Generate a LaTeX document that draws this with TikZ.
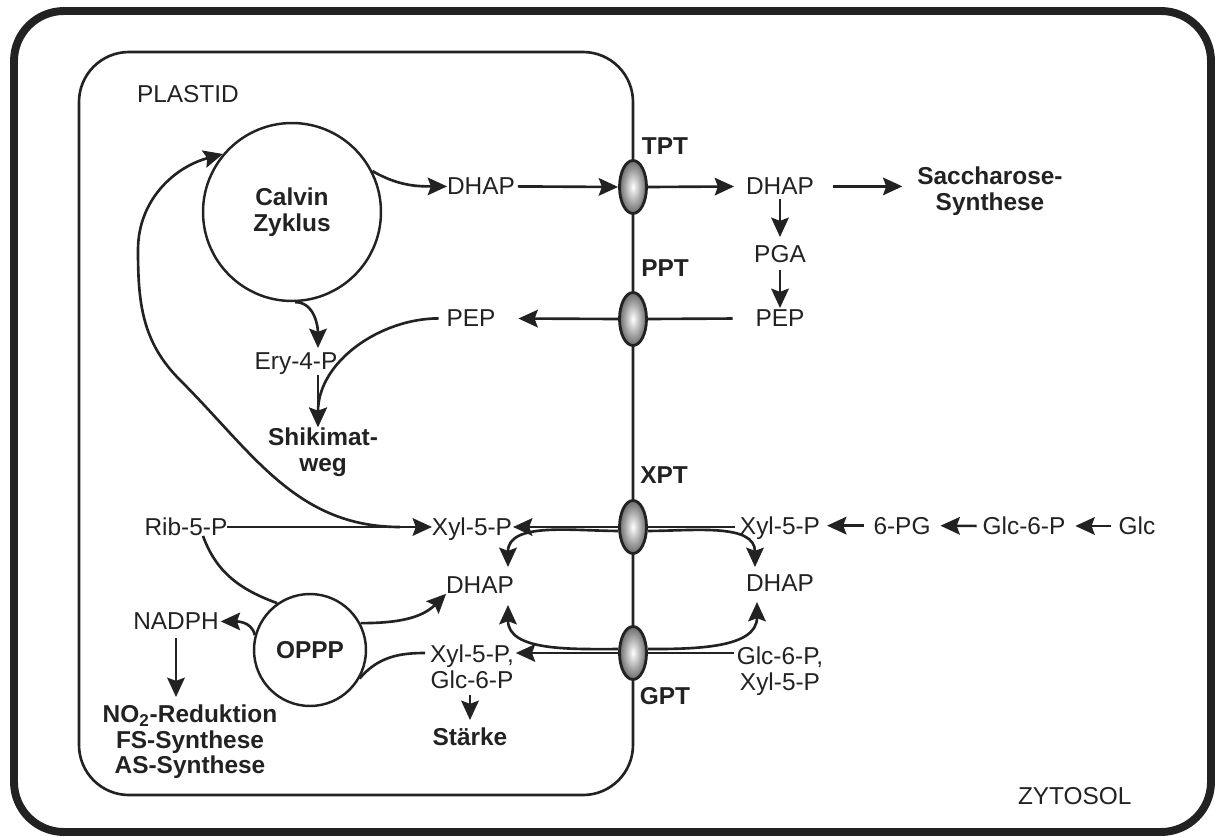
\documentclass[tikz,border=0pt]{standalone}
\usepackage{fontspec}
\setmainfont{Liberation Sans}
\usetikzlibrary{arrows.meta,shapes.geometric}
\definecolor{ink}{HTML}{222222}
\begin{document}
\begin{tikzpicture}[x=0.02cm,y=0.02cm,
  lbl/.style={font=\fontsize{13.9}{14.5}\selectfont, inner sep=0pt, outer sep=0pt, align=center, text=ink, anchor=north},
  blbl/.style={lbl, font=\fontsize{13.9}{14.5}\selectfont\bfseries},
  ln/.style={draw=ink, line width=1.5pt},
  arr/.style={ln, -{Stealth[length=11pt,width=10pt,inset=1.8pt]}},
  trans/.style={ellipse, draw=ink, line width=1.6pt, minimum width=0.54cm, minimum height=1.06cm, inner sep=0pt,
    shade, shading=radial, inner color=white, outer color=black!58},
  cyc/.style={circle, draw=ink, line width=1.4pt, inner sep=0pt, font=\fontsize{13.9}{14.5}\selectfont\bfseries, align=center, text=ink}
]
\useasboundingbox (0,0) rectangle (1215,-836);
% frames
\draw[draw=ink, line width=4.5pt, rounded corners=1cm] (14,-11) rectangle (1211,-832);
\draw[draw=ink, line width=1.5pt, rounded corners=1cm] (79,-52) rectangle (633,-795);

% cycles
\node[cyc, minimum size=3.56cm] (calvin) at (292,-212) {Calvin\\Zyklus};
\node[cyc, minimum size=2.24cm] (oppp) at (310,-650) {OPPP};

% labels
\node[lbl, anchor=north west] (plastid) at (137,-85) {PLASTID};
\node[lbl, anchor=north west] (zyt) at (1018,-787) {ZYTOSOL};
\node[lbl] (dhapP) at (481,-178) {DHAP};
\node[lbl] (dhapC) at (780,-178) {DHAP};
\node[blbl] (sacch) at (990,-167) {Saccharose-\\Synthese};
\node[lbl] (pga) at (780,-245) {PGA};
\node[lbl] (pepC) at (780,-310) {PEP};
\node[lbl] (pepP) at (471,-310) {PEP};
\node[lbl] (ery) at (296,-353) {Ery-4-P};
\node[blbl] (shik) at (323,-428) {Shikimat-\\weg};
\node[lbl] (ribP) at (186,-518) {Rib-5-P};
\node[lbl] (xylP) at (472,-518) {Xyl-5-P};
\node[lbl] (xylC) at (780,-517) {Xyl-5-P};
\node[lbl] (pg6) at (902,-517) {6-PG};
\node[lbl] (glc6) at (1024,-517) {Glc-6-P};
\node[lbl] (glc) at (1137,-517) {Glc};
\node[lbl] (dhapP2) at (480,-577) {DHAP};
\node[lbl] (dhapC2) at (780,-575) {DHAP};
\node[lbl] (nadph) at (176,-613) {NADPH};
\node[lbl] (xglcP) at (472,-645) {Xyl-5-P,\\Glc-6-P};
\node[lbl] (glcxC) at (780,-647) {Glc-6-P,\\Xyl-5-P};
\node[blbl] (no2) at (190,-705) {NO\textsubscript{2}-Reduktion\\FS-Synthese\\AS-Synthese};
\node[blbl] (staerke) at (470,-728) {Stärke};

% transporters
\node[trans] (tpt) at (633,-187) {};
\node[trans] (ppt) at (633,-319) {};
\node[trans] (xpt) at (633,-527) {};
\node[trans] (gpt) at (633,-653) {};
\node[blbl] (tptl) at (665,-138) {TPT};
\node[blbl] (pptl) at (665,-260) {PPT};
\node[blbl] (xptl) at (664,-467) {XPT};
\node[blbl] (gptl) at (665,-687) {GPT};

% helper coordinates
\coordinate (eryin) at (318,-348);
\coordinate (shikin) at (318,-427);
\coordinate (bigstart) at (400,-527);
\coordinate (dPtop) at (508,-567);
\coordinate (dPbot) at (508,-605);
\coordinate (dCtop) at (755,-567);
\coordinate (dCbot) at (757,-602);

% connectors
\draw[arr] (calvin.27) to[out=-30,in=180] (dhapP.west);
\draw[arr, shorten <=0.06cm] (dhapP.east) -- (tpt.west);
\draw[arr, shorten >=0.24cm] (tpt.east) -- (dhapC.west);
\draw[arr, shorten <=0.38cm, shorten >=0.3cm] (dhapC.east) -- (dhapC.east -| sacch.west);
\draw[arr, shorten <=0.08cm, shorten >=0.16cm] (dhapC.south) -- (pga.north);
\draw[arr, shorten <=0.15cm, shorten >=0.04cm] (pga.south) -- (pepC.north);
\draw[ln, shorten <=0.46cm] (pepC.west) -- (ppt.east);
\draw[arr, shorten >=0.46cm] (ppt.west) -- (pepP.east);
\draw[arr, shorten <=0.16cm] (pepP.west) to[out=180,in=90] (shikin);
\draw[arr] (calvin.-88) to[out=0,in=90] (eryin);
\draw[arr] (eryin |- ery.south) -- (shikin);
\draw[arr] (ribP.east) -- (ribP.east -| xylP.west);
\draw[arr] (bigstart) to[out=180,in=-45] (180,-380) to[out=135,in=-90] (138,-250) to[out=90,in=-165] (calvin.140);
\draw[arr, shorten >=0.02cm] (xpt.west) -- (xpt.west -| xylP.east);
\draw[arr] (xpt.195) to[out=180,in=90] (dPtop);
\draw[arr] (xpt.-15) to[out=0,in=90] (dCtop);
\draw[ln, shorten >=0.1cm] (xpt.east) -- (xpt.east -| xylC.west);
\draw[arr, shorten <=0.2cm, shorten >=0.14cm] (pg6.west) -- (pg6.west -| xylC.east);
\draw[arr, shorten <=0.12cm, shorten >=0.2cm] (glc6.west) -- (pg6.east);
\draw[arr, shorten <=0.16cm, shorten >=0.2cm] (glc.west) -- (glc6.east);
\draw[arr, shorten >=0.04cm] (gpt.west) -- (gpt.west -| xglcP.east);
\draw[arr] (gpt.165) to[out=180,in=-90] (dPbot);
\draw[arr] (gpt.15) to[out=0,in=-90] (dCbot);
\draw[ln, shorten >=0.06cm] (gpt.east) -- (gpt.east -| glcxC.west);
\draw[arr, shorten <=0.14cm, shorten >=0.16cm] (staerke.north |- xglcP.south) -- (staerke.north);
\draw[ln] ([xshift=0.34cm]ribP.south) to[out=-70,in=160] (oppp.125);
\draw[arr, shorten >=0.04cm] (oppp.165) to[out=100,in=0] (nadph.east);
\draw[arr, shorten <=0.16cm, shorten >=0.16cm] (nadph.south) -- (nadph.south |- no2.north);
\draw[arr] (oppp.28) to[out=0,in=-135] (dhapP2.south west);
\draw[ln, shorten <=0.1cm] (xglcP.west |- gpt.west) to[out=180,in=50] (oppp.-30);
\end{tikzpicture}
\end{document}
